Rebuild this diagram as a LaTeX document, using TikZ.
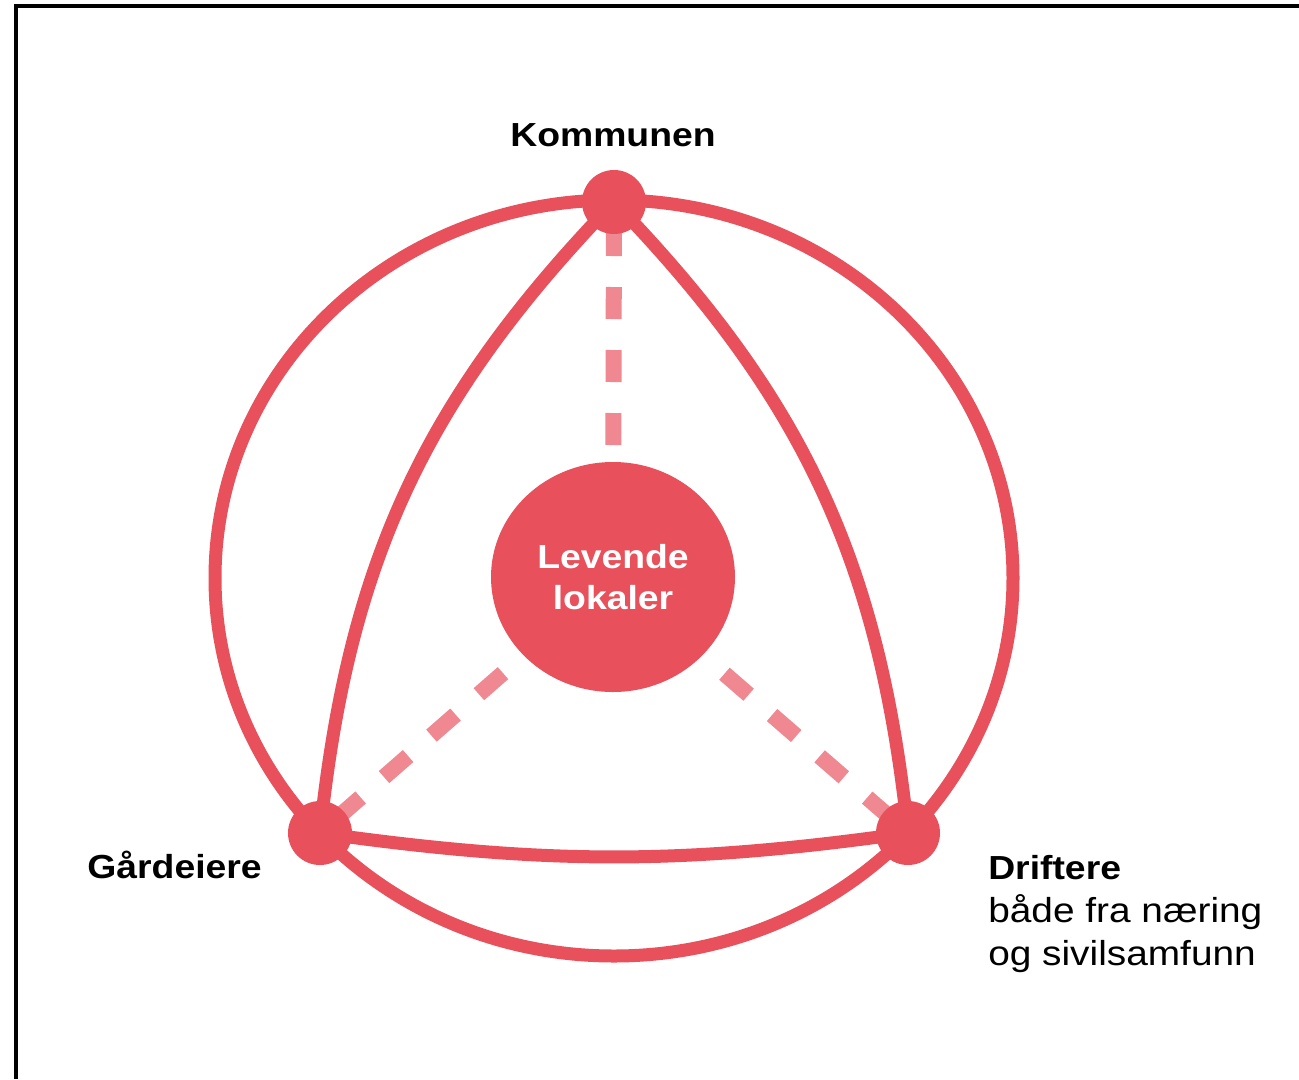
\documentclass[tikz,border=0pt]{standalone}
\usepackage{fontspec}
\setmainfont{Liberation Sans}[FakeStretch=1.12]
\usetikzlibrary{shapes.geometric,backgrounds}
\definecolor{mainred}{RGB}{232,80,91}
\definecolor{dashpink}{RGB}{239,136,145}
\begin{document}
\begin{tikzpicture}[x=0.75pt,y=-0.75pt,
  redline/.style={draw=mainred,line width=9.75pt},
  dashline/.style={draw=dashpink,line width=12pt,dash pattern=on 24pt off 23.25pt,dash phase=30.75pt},
  dotnode/.style={circle,fill=mainred,minimum size=48pt,inner sep=0pt},
  hubnode/.style={ellipse,fill=mainred,minimum width=183pt,minimum height=172.5pt,inner sep=0pt,
    text=white,font=\fontsize{25}{31.5}\selectfont\bfseries,align=center},
  boldlabel/.style={inner sep=0pt,font=\fontsize{25}{31.5}\selectfont\bfseries},
  ]
\useasboundingbox (0,0) rectangle (1299,1079);
\coordinate (frameBL) at (15.5,1079);
\coordinate (frameTL) at (15.5,6);
\coordinate (frameTR) at (1299,6);
\draw[black,line width=3pt] (frameBL) -- (frameTL) -- (frameTR);

% nodes
\node[dotnode] (K) at (614,202) {};
\node[dotnode] (G) at (320,833) {};
\node[dotnode] (D) at (908,833) {};
\node[hubnode] (L) at (613,577) {Levende\\[-1pt]lokaler};

% labels
\node[boldlabel,anchor=base] (kl) at (613,146) {Kommunen};
\node[boldlabel,anchor=base east] (gl) at (262,878) {Gårdeiere};
\node[inner sep=0pt,anchor=base west] (dl) at (988,879)
  {\fontsize{26}{32.25}\selectfont\renewcommand{\arraystretch}{1.0}%
   \begin{tabular}[t]{@{}l@{}}\fontsize{25}{32.25}\selectfont\bfseries Driftere\\ både fra næring\\ og sivilsamfunn\end{tabular}};

\begin{scope}[on background layer]
  \fill[white] (0,0) rectangle (1299,1079);
  \draw[redline] (614,578) ellipse [x radius=399, y radius=378];
  \draw[redline] (K.center) to[bend right=19] (G.center);
  \draw[redline] (K.center) to[bend left=19] (D.center);
  \draw[redline] (G.center) to[bend right=8] (D.center);
  \draw[dashline] (K.center) -- (L.center);
  \draw[dashline] (G.center) -- (L.center);
  \draw[dashline] (D.center) -- (L.center);
\end{scope}
\end{tikzpicture}
\end{document}
